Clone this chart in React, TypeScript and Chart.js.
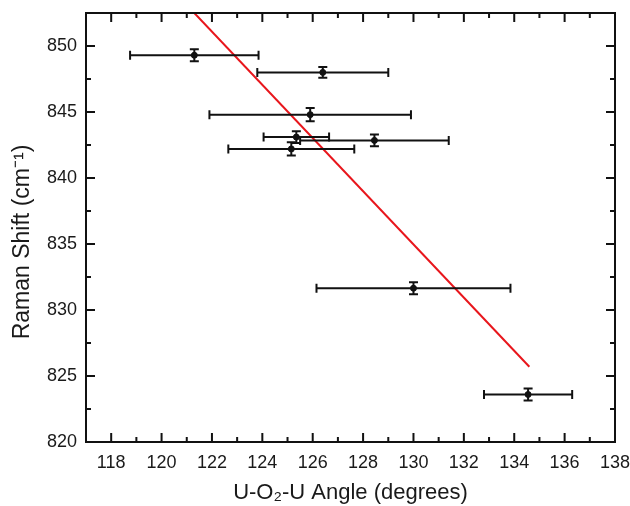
import React, { useEffect, useRef } from "react";
import { Chart, registerables } from "chart.js";

Chart.register(...registerables);

// Data
const angles = [121.3, 126.4, 125.9, 125.35, 125.15, 128.45, 130.0, 134.55];
const shifts = [849.3, 848.0, 844.8, 843.1, 842.2, 842.85, 831.65, 823.6];
const angleErr = [2.55, 2.6, 4.0, 1.3, 2.5, 2.95, 3.85, 1.75];
const shiftErr = [0.45, 0.4, 0.5, 0.45, 0.5, 0.45, 0.45, 0.45];

// Linear fit line endpoints
const fitX = [121.3, 134.6];
const fitY = [852.5, 825.7];

// Axis ticks
const xMajorTicks = [118, 120, 122, 124, 126, 128, 130, 132, 134, 136, 138];
const xMinorTicks = [119, 121, 123, 125, 127, 129, 131, 133, 135, 137];
const yMajorTicks = [820, 825, 830, 835, 840, 845, 850];
const yMinorTicks = [822.5, 827.5, 832.5, 837.5, 842.5, 847.5];

const xTitle = "U-O₂-U Angle (degrees)";
const yTitle = "Raman Shift (cm⁻¹)";

const X_MIN = 117;
const X_MAX = 138;
const Y_MIN = 820;
const Y_MAX = 852.5;

const FONT = "'Liberation Sans', Arial, sans-serif";

const errorBarPlugin = {
  id: "errorBars",
  afterDatasetsDraw(chart: any) {
    const { ctx, scales } = chart;
    const x = scales.x;
    const y = scales.y;
    ctx.save();
    ctx.strokeStyle = "#111";
    ctx.lineWidth = 2;
    const capX = 4.5;
    const capY = 4.5;
    angles.forEach((a, i) => {
      const px = x.getPixelForValue(a);
      const py = y.getPixelForValue(shifts[i]);
      const xl = x.getPixelForValue(a - angleErr[i]);
      const xr = x.getPixelForValue(a + angleErr[i]);
      const yt = y.getPixelForValue(shifts[i] + shiftErr[i]);
      const yb = y.getPixelForValue(shifts[i] - shiftErr[i]);
      ctx.beginPath();
      ctx.moveTo(xl, py);
      ctx.lineTo(xr, py);
      ctx.moveTo(xl, py - capX);
      ctx.lineTo(xl, py + capX);
      ctx.moveTo(xr, py - capX);
      ctx.lineTo(xr, py + capX);
      ctx.moveTo(px, yt);
      ctx.lineTo(px, yb);
      ctx.moveTo(px - capY, yt);
      ctx.lineTo(px + capY, yt);
      ctx.moveTo(px - capY, yb);
      ctx.lineTo(px + capY, yb);
      ctx.stroke();
    });
    ctx.restore();
  },
};

const framePlugin = {
  id: "frameTicks",
  afterDraw(chart: any) {
    const { ctx, chartArea, scales } = chart;
    const { left, right, top, bottom } = chartArea;
    const x = scales.x;
    const y = scales.y;
    ctx.save();
    ctx.strokeStyle = "#111";
    ctx.lineWidth = 2;
    ctx.strokeRect(left, top, right - left, bottom - top);
    const major = 9;
    const minor = 5;
    ctx.beginPath();
    xMajorTicks.forEach((v) => {
      const px = x.getPixelForValue(v);
      ctx.moveTo(px, bottom);
      ctx.lineTo(px, bottom - major);
      ctx.moveTo(px, top);
      ctx.lineTo(px, top + major);
    });
    xMinorTicks.forEach((v) => {
      const px = x.getPixelForValue(v);
      ctx.moveTo(px, bottom);
      ctx.lineTo(px, bottom - minor);
      ctx.moveTo(px, top);
      ctx.lineTo(px, top + minor);
    });
    yMajorTicks.forEach((v) => {
      const py = y.getPixelForValue(v);
      ctx.moveTo(left, py);
      ctx.lineTo(left + major, py);
      ctx.moveTo(right, py);
      ctx.lineTo(right - major, py);
    });
    yMinorTicks.forEach((v) => {
      const py = y.getPixelForValue(v);
      ctx.moveTo(left, py);
      ctx.lineTo(left + minor, py);
      ctx.moveTo(right, py);
      ctx.lineTo(right - minor, py);
    });
    ctx.stroke();

    // y-axis title
    ctx.fillStyle = "#1a1a1a";
    ctx.font = `23px ${FONT}`;
    ctx.textAlign = "center";
    ctx.textBaseline = "middle";
    ctx.translate(23, 242);
    ctx.rotate(-Math.PI / 2);
    ctx.fillText(yTitle, 0, 0);
    ctx.restore();
  },
};

export default function App() {
  const canvasRef = useRef<HTMLCanvasElement | null>(null);

  useEffect(() => {
    const canvas = canvasRef.current;
    if (!canvas) return;
    const chart = new Chart(canvas, {
      type: "scatter",
      data: {
        datasets: [
          {
            label: "fit",
            data: fitX.map((v, i) => ({ x: v, y: fitY[i] })),
            showLine: true,
            borderColor: "#e8161c",
            borderWidth: 2,
            pointRadius: 0,
            fill: false,
            order: 2,
          },
          {
            label: "data",
            data: angles.map((v, i) => ({ x: v, y: shifts[i] })),
            backgroundColor: "#111",
            borderColor: "#111",
            pointRadius: 3,
            order: 1,
          },
        ],
      },
      options: {
        responsive: false,
        animation: false,
        layout: { padding: { left: 0, top: 13, right: 15, bottom: 0 } },
        plugins: {
          legend: { display: false },
          tooltip: { enabled: false },
        },
        scales: {
          x: {
            type: "linear",
            min: X_MIN,
            max: X_MAX,
            grid: { display: false, drawTicks: false },
            border: { display: false },
            afterBuildTicks: (scale: any) => {
              scale.ticks = xMajorTicks.map((v) => ({ value: v }));
            },
            afterFit: (scale: any) => {
              scale.height = 64;
              scale.paddingLeft = 0;
              scale.paddingRight = 0;
            },
            ticks: {
              padding: 10,
              color: "#1a1a1a",
              font: { family: FONT, size: 18 },
              maxRotation: 0,
              autoSkip: false,
            },
            title: {
              display: true,
              text: xTitle,
              color: "#1a1a1a",
              font: { family: FONT, size: 22 },
              padding: { top: 0, bottom: 0 },
            },
          },
          y: {
            type: "linear",
            min: Y_MIN,
            max: Y_MAX,
            grid: { display: false, drawTicks: false },
            border: { display: false },
            afterBuildTicks: (scale: any) => {
              scale.ticks = yMajorTicks.map((v) => ({ value: v }));
            },
            afterFit: (scale: any) => {
              scale.width = 86;
              scale.paddingTop = 0;
              scale.paddingBottom = 0;
            },
            ticks: {
              padding: 9,
              color: "#1a1a1a",
              font: { family: FONT, size: 18 },
              autoSkip: false,
            },
            title: { display: false },
          },
        },
      },
      plugins: [errorBarPlugin, framePlugin],
    } as any);
    return () => chart.destroy();
  }, []);

  return (
    <div
      style={{
        position: "fixed",
        left: 0,
        top: 0,
        width: 630,
        height: 506,
        background: "#fff",
      }}
    >
      <canvas ref={canvasRef} width={630} height={506} style={{ display: "block" }} />
    </div>
  );
}
